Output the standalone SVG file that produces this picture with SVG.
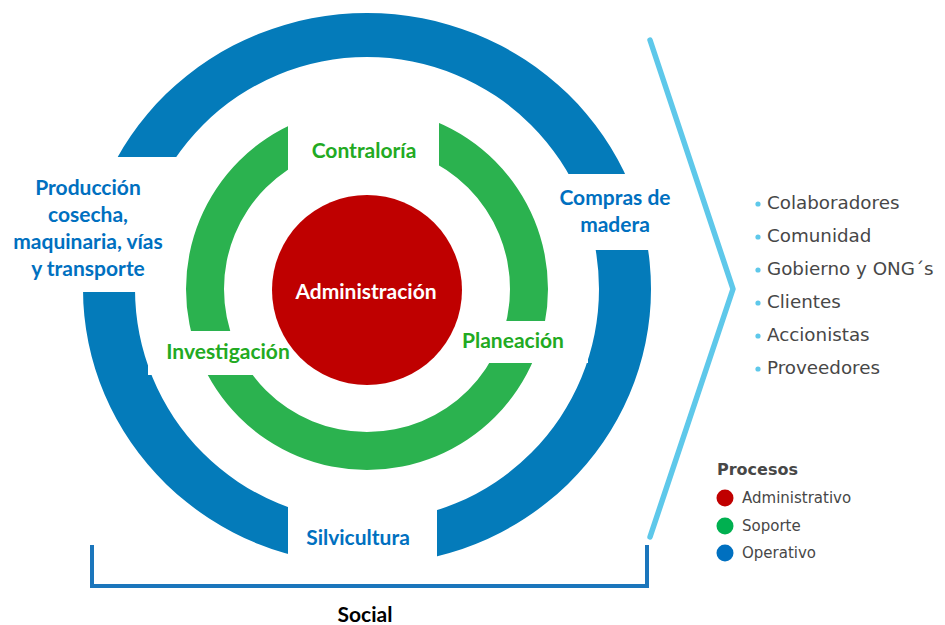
<svg xmlns="http://www.w3.org/2000/svg" width="945" height="625" viewBox="0 0 945 625">
  <style>
    .lbl { font-family: Lato, "Liberation Sans", sans-serif; font-weight: 700; font-size: 21px; text-anchor: middle; }
    .blue { fill: #0070c0; }
    .green { fill: #22aa22; }
    .white { fill: #ffffff; }
    .list { font-family: "DejaVu Sans", sans-serif; font-size: 18.3px; fill: #474747; }
    .leg { font-family: "DejaVu Sans", sans-serif; font-size: 15px; fill: #474747; }
    .dot { fill: #5ec8ea; }
  </style>
  <defs>
    <mask id="blueGaps" maskUnits="userSpaceOnUse" x="0" y="0" width="945" height="625">
      <rect x="0" y="0" width="945" height="625" fill="#fff"/>
      <rect x="0" y="157" width="250" height="135" fill="#000"/>
      <rect x="480" y="174" width="250" height="76" fill="#000"/>
      <rect x="288" y="440" width="149" height="160" fill="#000"/>
      <rect x="148" y="331" width="150" height="44" fill="#000"/>
      <rect x="455" y="321" width="133" height="42" fill="#000"/>
    </mask>
    <mask id="greenGaps" maskUnits="userSpaceOnUse" x="0" y="0" width="945" height="625">
      <rect x="0" y="0" width="945" height="625" fill="#fff"/>
      <rect x="288" y="90" width="151" height="81" fill="#000"/>
      <rect x="148" y="331" width="150" height="44" fill="#000"/>
      <rect x="455" y="321" width="133" height="42" fill="#000"/>
    </mask>
  </defs>

  <rect x="0" y="0" width="945" height="625" fill="#ffffff"/>

  <g id="anillo-operativo">
    <path d="M 83 289 a 284 276 0 1 0 568 0 a 284 276 0 1 0 -568 0 Z M 135 289 a 232 232 0 1 0 464 0 a 232 232 0 1 0 -464 0 Z" fill="#047bba" fill-rule="evenodd" mask="url(#blueGaps)"/>
  </g>

  <g id="anillo-soporte">
    <path d="M 186 289 a 181 181 0 1 0 362 0 a 181 181 0 1 0 -362 0 Z M 224 289 a 143 143 0 1 0 286 0 a 143 143 0 1 0 -286 0 Z" fill="#2bb24f" fill-rule="evenodd" mask="url(#greenGaps)"/>
  </g>

  <g id="administracion">
    <circle cx="367" cy="290" r="95" fill="#bf0000"/>
    <text class="lbl white" x="366" y="299">Administración</text>
  </g>

  <g id="contraloria">
    <text class="lbl green" x="364" y="158">Contraloría</text>
  </g>
  <g id="investigacion">
    <text class="lbl green" x="228" y="359">Investigación</text>
  </g>
  <g id="planeacion">
    <text class="lbl green" x="513" y="348">Planeación</text>
  </g>

  <g id="produccion">
    <text class="lbl blue" x="88" y="195">Producción</text>
    <text class="lbl blue" x="88" y="222">cosecha,</text>
    <text class="lbl blue" x="88" y="249">maquinaria, vías</text>
    <text class="lbl blue" x="88" y="276">y transporte</text>
  </g>
  <g id="compras">
    <text class="lbl blue" x="615" y="205">Compras de</text>
    <text class="lbl blue" x="615" y="232">madera</text>
  </g>
  <g id="silvicultura">
    <text class="lbl blue" x="358" y="545">Silvicultura</text>
  </g>

  <g id="conectores">
    <path d="M 92 545 V 586 H 647 V 545" fill="none" stroke="#1b76bc" stroke-width="4"/>
    <path d="M 650 40 L 733 289 L 650 537" fill="none" stroke="#5ec8ea" stroke-width="5.5" stroke-linecap="round" stroke-linejoin="round"/>
  </g>

  <g id="social">
    <text class="lbl" x="365" y="622" fill="#000000" font-size="23">Social</text>
  </g>

  <g id="grupos-interes">
    <circle class="dot" cx="758" cy="204" r="2.6"/>
    <text class="list" x="767" y="209">Colaboradores</text>
    <circle class="dot" cx="758" cy="237" r="2.6"/>
    <text class="list" x="767" y="242">Comunidad</text>
    <circle class="dot" cx="758" cy="270" r="2.6"/>
    <text class="list" x="767" y="275">Gobierno y ONG´s</text>
    <circle class="dot" cx="758" cy="303" r="2.6"/>
    <text class="list" x="767" y="308">Clientes</text>
    <circle class="dot" cx="758" cy="336" r="2.6"/>
    <text class="list" x="767" y="341">Accionistas</text>
    <circle class="dot" cx="758" cy="369" r="2.6"/>
    <text class="list" x="767" y="374">Proveedores</text>
  </g>

  <g id="leyenda">
    <text x="717" y="475" font-family="'DejaVu Sans', sans-serif" font-weight="700" font-size="16" fill="#474747">Procesos</text>
    <circle cx="725" cy="498" r="8.5" fill="#c00000"/>
    <text class="leg" x="742" y="503">Administrativo</text>
    <circle cx="725" cy="526" r="8.5" fill="#00b050"/>
    <text class="leg" x="742" y="531">Soporte</text>
    <circle cx="725" cy="553" r="8.5" fill="#0070c0"/>
    <text class="leg" x="742" y="558">Operativo</text>
  </g>
</svg>
